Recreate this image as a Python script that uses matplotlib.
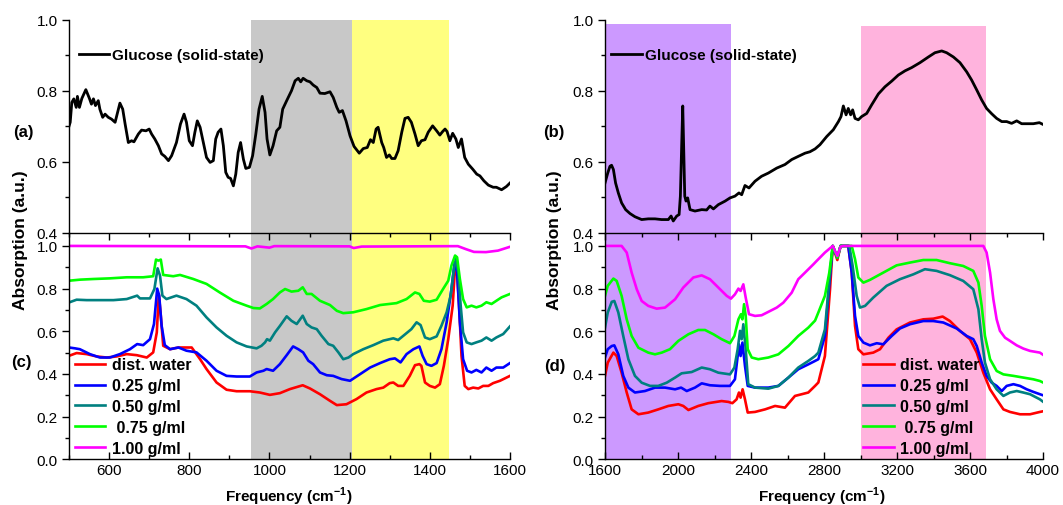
import numpy as np
import matplotlib
matplotlib.use('Agg')
import matplotlib.pyplot as plt
from matplotlib.ticker import MultipleLocator, FormatStrFormatter

plt.rcParams['font.family'] = ['Liberation Sans', 'DejaVu Sans']
plt.rcParams['mathtext.fontset'] = 'custom'
plt.rcParams['mathtext.rm'] = 'Liberation Sans'
plt.rcParams['mathtext.bf'] = 'Liberation Sans:bold'

# ---- data (frequency in cm-1, absorption a.u.) ----
# (a) glucose solid state, 500-1600
glucose_a = [(500, 0.70), (503, 0.711), (507, 0.767), (512, 0.777), (518, 0.753), (521, 0.784), (526, 0.753),
             (532, 0.778), (542, 0.803), (551, 0.778), (556, 0.762), (561, 0.777), (566, 0.758), (573, 0.772),
             (577, 0.748), (584, 0.725), (590, 0.734), (598, 0.725), (606, 0.72), (615, 0.711), (620, 0.734),
             (627, 0.765), (634, 0.748), (640, 0.706), (648, 0.654), (656, 0.659), (662, 0.656), (673, 0.678),
             (681, 0.689), (692, 0.687), (700, 0.692), (706, 0.678), (714, 0.664), (723, 0.645), (731, 0.622),
             (739, 0.615), (748, 0.603), (756, 0.617), (768, 0.654), (778, 0.706), (787, 0.734), (793, 0.711),
             (800, 0.659), (808, 0.645), (814, 0.683), (820, 0.715), (827, 0.697), (835, 0.654), (843, 0.612),
             (852, 0.598), (860, 0.603), (866, 0.664), (872, 0.683), (879, 0.692), (885, 0.645), (891, 0.57),
             (897, 0.556), (903, 0.553), (910, 0.532), (916, 0.565), (922, 0.626), (928, 0.654), (935, 0.607),
             (941, 0.581), (950, 0.584), (958, 0.617), (966, 0.678), (974, 0.748), (982, 0.784), (989, 0.739),
             (994, 0.664), (1001, 0.619), (1009, 0.645), (1018, 0.687), (1026, 0.697), (1033, 0.748),
             (1043, 0.772), (1055, 0.80), (1064, 0.828), (1072, 0.835), (1078, 0.825), (1084, 0.835),
             (1093, 0.828), (1101, 0.825), (1109, 0.816), (1118, 0.809), (1126, 0.793), (1138, 0.792),
             (1151, 0.797), (1159, 0.781), (1168, 0.753), (1174, 0.739), (1182, 0.744), (1191, 0.715),
             (1201, 0.673), (1211, 0.643), (1224, 0.624), (1234, 0.637), (1244, 0.64), (1252, 0.662),
             (1259, 0.654), (1266, 0.692), (1271, 0.697), (1280, 0.654), (1285, 0.640), (1292, 0.612),
             (1299, 0.619), (1305, 0.609), (1313, 0.609), (1321, 0.631), (1330, 0.683), (1338, 0.722),
             (1346, 0.725), (1354, 0.711), (1363, 0.678), (1371, 0.645), (1379, 0.659), (1388, 0.662),
             (1396, 0.683), (1407, 0.701), (1417, 0.687), (1425, 0.675), (1432, 0.685), (1438, 0.692),
             (1443, 0.685), (1450, 0.659), (1457, 0.680), (1465, 0.664), (1471, 0.64), (1479, 0.664),
             (1487, 0.612), (1496, 0.593), (1507, 0.579), (1517, 0.565), (1525, 0.56), (1535, 0.546),
             (1546, 0.534), (1558, 0.528), (1566, 0.528), (1579, 0.521), (1591, 0.53), (1600, 0.54)]

# (b) glucose solid state, 1600-4000
glucose_b = [(1600, 0.540), (1615, 0.568), (1627, 0.587), (1636, 0.590), (1646, 0.578), (1658, 0.540), (1673, 0.512),
             (1691, 0.484), (1713, 0.465), (1737, 0.454), (1764, 0.445), (1801, 0.437), (1837, 0.439),
             (1874, 0.439), (1910, 0.437), (1947, 0.437), (1962, 0.447), (1974, 0.433), (1993, 0.447),
             (2006, 0.451), (2013, 0.503), (2020, 0.643), (2026, 0.757), (2031, 0.643), (2037, 0.503),
             (2044, 0.489), (2053, 0.498), (2066, 0.465), (2093, 0.461), (2130, 0.465), (2157, 0.464),
             (2175, 0.475), (2194, 0.467), (2221, 0.479), (2258, 0.489), (2285, 0.498), (2312, 0.503),
             (2334, 0.512), (2349, 0.507), (2367, 0.533), (2389, 0.526), (2422, 0.545), (2458, 0.559),
             (2495, 0.568), (2541, 0.582), (2586, 0.592), (2623, 0.606), (2659, 0.615), (2696, 0.624),
             (2723, 0.628), (2751, 0.636), (2778, 0.648), (2815, 0.671), (2851, 0.690), (2879, 0.713),
             (2893, 0.727), (2906, 0.757), (2921, 0.732), (2933, 0.750), (2946, 0.732), (2957, 0.746),
             (2970, 0.722), (2988, 0.718), (3006, 0.727), (3034, 0.736), (3061, 0.760), (3098, 0.791),
             (3134, 0.811), (3171, 0.827), (3207, 0.844), (3244, 0.856), (3280, 0.865), (3326, 0.879),
             (3372, 0.895), (3408, 0.907), (3445, 0.912), (3472, 0.907), (3509, 0.895), (3545, 0.879),
             (3582, 0.853), (3609, 0.830), (3637, 0.802), (3664, 0.774), (3691, 0.750), (3719, 0.735),
             (3746, 0.722), (3774, 0.713), (3801, 0.713), (3828, 0.708), (3856, 0.715), (3883, 0.707),
             (3920, 0.707), (3947, 0.707), (3980, 0.710), (4000, 0.705)]

# (c) solutions, 500-1600
water_c = [(500, 0.485), (519, 0.498), (544, 0.493), (569, 0.482), (594, 0.477), (619, 0.482), (644, 0.493),
           (669, 0.488), (694, 0.477), (710, 0.501), (719, 0.595), (724, 0.775), (729, 0.673), (735, 0.532),
           (752, 0.516), (773, 0.524), (806, 0.524), (827, 0.469), (843, 0.423), (868, 0.360), (893, 0.326),
           (918, 0.319), (951, 0.319), (976, 0.313), (1001, 0.302), (1026, 0.310), (1051, 0.329), (1083, 0.347),
           (1101, 0.332), (1126, 0.305), (1151, 0.274), (1168, 0.254), (1192, 0.258), (1217, 0.282),
           (1242, 0.313), (1267, 0.329), (1284, 0.336), (1300, 0.357), (1309, 0.360), (1321, 0.344),
           (1334, 0.344), (1350, 0.391), (1363, 0.441), (1374, 0.446), (1379, 0.438), (1388, 0.360),
           (1400, 0.344), (1413, 0.336), (1425, 0.352), (1435, 0.438), (1446, 0.563), (1457, 0.720),
           (1463, 0.900), (1468, 0.876), (1473, 0.720), (1479, 0.485), (1487, 0.344), (1496, 0.329),
           (1508, 0.336), (1521, 0.332), (1533, 0.344), (1546, 0.344), (1558, 0.357), (1575, 0.368),
           (1600, 0.391)]
g025_c = [(500, 0.524), (515, 0.520), (527, 0.516), (552, 0.493), (577, 0.477), (602, 0.477), (627, 0.493),
          (652, 0.516), (670, 0.540), (685, 0.535), (702, 0.563), (712, 0.634), (720, 0.80), (725, 0.767),
          (731, 0.626), (739, 0.535), (752, 0.516), (773, 0.524), (793, 0.509), (818, 0.501), (843, 0.462),
          (868, 0.415), (893, 0.391), (918, 0.388), (951, 0.388), (968, 0.407), (985, 0.415), (993, 0.423),
          (1009, 0.415), (1026, 0.446), (1043, 0.488), (1059, 0.529), (1072, 0.516), (1084, 0.501),
          (1097, 0.462), (1109, 0.446), (1126, 0.407), (1143, 0.394), (1159, 0.391), (1180, 0.376),
          (1201, 0.368), (1226, 0.399), (1251, 0.430), (1276, 0.451), (1300, 0.469), (1313, 0.473),
          (1327, 0.454), (1342, 0.493), (1359, 0.516), (1374, 0.529), (1382, 0.485), (1392, 0.446),
          (1404, 0.438), (1417, 0.451), (1429, 0.516), (1442, 0.642), (1454, 0.798), (1462, 0.923),
          (1468, 0.876), (1475, 0.642), (1483, 0.469), (1493, 0.415), (1504, 0.407), (1516, 0.419),
          (1529, 0.407), (1541, 0.430), (1554, 0.415), (1566, 0.430), (1583, 0.430), (1600, 0.451)]
g050_c = [(500, 0.735), (519, 0.748), (544, 0.746), (577, 0.746), (611, 0.746), (644, 0.751), (670, 0.767),
          (677, 0.754), (702, 0.754), (713, 0.798), (721, 0.895), (727, 0.861), (733, 0.767), (743, 0.751),
          (768, 0.767), (793, 0.751), (818, 0.72), (843, 0.665), (868, 0.618), (893, 0.579), (918, 0.548),
          (943, 0.529), (968, 0.520), (980, 0.532), (989, 0.548), (994, 0.563), (1001, 0.556), (1014, 0.595),
          (1026, 0.625), (1043, 0.670), (1055, 0.649), (1068, 0.634), (1083, 0.673), (1093, 0.634),
          (1105, 0.618), (1118, 0.610), (1130, 0.579), (1147, 0.540), (1159, 0.532), (1172, 0.501),
          (1184, 0.469), (1197, 0.477), (1209, 0.493), (1234, 0.516), (1259, 0.535), (1284, 0.556),
          (1309, 0.567), (1321, 0.559), (1334, 0.579), (1354, 0.610), (1367, 0.642), (1377, 0.629),
          (1388, 0.571), (1400, 0.563), (1417, 0.576), (1429, 0.626), (1442, 0.689), (1452, 0.767),
          (1460, 0.892), (1465, 0.939), (1471, 0.876), (1477, 0.720), (1483, 0.595), (1492, 0.548),
          (1504, 0.540), (1516, 0.548), (1529, 0.556), (1541, 0.571), (1554, 0.556), (1566, 0.571),
          (1583, 0.587), (1600, 0.623)]
g075_c = [(500, 0.837), (528, 0.842), (561, 0.845), (602, 0.848), (644, 0.853), (685, 0.853), (710, 0.858),
          (717, 0.936), (723, 0.931), (729, 0.936), (735, 0.864), (760, 0.858), (777, 0.864), (810, 0.845),
          (843, 0.822), (876, 0.782), (910, 0.743), (943, 0.72), (960, 0.709), (976, 0.707), (993, 0.728),
          (1009, 0.751), (1026, 0.782), (1039, 0.798), (1055, 0.786), (1072, 0.79), (1083, 0.806),
          (1093, 0.775), (1105, 0.775), (1126, 0.743), (1151, 0.723), (1168, 0.696), (1184, 0.685),
          (1209, 0.689), (1242, 0.704), (1276, 0.723), (1317, 0.732), (1342, 0.751), (1363, 0.782),
          (1374, 0.775), (1385, 0.743), (1400, 0.739), (1417, 0.748), (1433, 0.798), (1446, 0.837),
          (1454, 0.908), (1463, 0.955), (1468, 0.947), (1475, 0.845), (1483, 0.751), (1492, 0.712),
          (1504, 0.720), (1516, 0.712), (1529, 0.720), (1541, 0.736), (1554, 0.728), (1566, 0.743),
          (1579, 0.759), (1600, 0.775)]
g100_c = [(500, 1.0), (940, 0.998), (955, 0.988), (970, 0.998), (1000, 0.992), (1012, 0.999), (1200, 0.998),
          (1210, 0.99), (1230, 0.997), (1470, 0.999), (1490, 0.985), (1510, 0.972), (1540, 0.971),
          (1570, 0.978), (1600, 0.996)]

# (d) solutions, 1600-4000
water_d = [(1600, 0.391), (1615, 0.453), (1646, 0.50), (1664, 0.484), (1691, 0.406), (1719, 0.313), (1746, 0.234),
           (1783, 0.211), (1837, 0.219), (1892, 0.234), (1947, 0.25), (2002, 0.258), (2029, 0.25), (2057, 0.231),
           (2111, 0.25), (2166, 0.263), (2239, 0.273), (2276, 0.269), (2298, 0.263), (2321, 0.281),
           (2334, 0.313), (2343, 0.289), (2354, 0.328), (2367, 0.281), (2382, 0.219), (2422, 0.222),
           (2477, 0.234), (2532, 0.25), (2586, 0.242), (2641, 0.297), (2678, 0.305), (2714, 0.313),
           (2751, 0.344), (2769, 0.36), (2805, 0.484), (2833, 0.797), (2848, 1.0), (2873, 0.934), (2891, 1.0),
           (2933, 1.0), (2952, 0.875), (2970, 0.625), (2988, 0.516), (3016, 0.492), (3070, 0.50),
           (3107, 0.516), (3153, 0.570), (3198, 0.609), (3271, 0.641), (3344, 0.656), (3399, 0.659),
           (3450, 0.669), (3490, 0.648), (3545, 0.602), (3600, 0.563), (3637, 0.50), (3673, 0.406),
           (3710, 0.328), (3746, 0.281), (3783, 0.234), (3819, 0.222), (3874, 0.211), (3929, 0.211),
           (3983, 0.222), (4000, 0.225)]
g025_d = [(1600, 0.477), (1615, 0.516), (1637, 0.531), (1651, 0.534), (1673, 0.492), (1700, 0.391), (1728, 0.336),
          (1764, 0.313), (1819, 0.320), (1874, 0.336), (1929, 0.336), (1984, 0.328), (2017, 0.336),
          (2048, 0.320), (2093, 0.336), (2130, 0.356), (2175, 0.347), (2230, 0.344), (2285, 0.344),
          (2312, 0.375), (2327, 0.484), (2334, 0.539), (2343, 0.484), (2353, 0.547), (2367, 0.438),
          (2382, 0.344), (2422, 0.336), (2495, 0.336), (2550, 0.344), (2605, 0.383), (2659, 0.422),
          (2714, 0.445), (2751, 0.461), (2769, 0.469), (2805, 0.578), (2833, 0.859), (2848, 1.0),
          (2873, 0.945), (2891, 1.0), (2933, 1.0), (2952, 0.875), (2970, 0.672), (2988, 0.578),
          (3016, 0.547), (3052, 0.534), (3089, 0.544), (3125, 0.539), (3171, 0.578), (3216, 0.613),
          (3271, 0.633), (3344, 0.648), (3399, 0.648), (3454, 0.641), (3527, 0.613), (3582, 0.578),
          (3618, 0.563), (3637, 0.531), (3664, 0.453), (3691, 0.391), (3719, 0.359), (3746, 0.344),
          (3774, 0.320), (3801, 0.344), (3838, 0.352), (3874, 0.344), (3911, 0.328), (3947, 0.316),
          (3983, 0.305), (4000, 0.30)]
g050_d = [(1600, 0.617), (1615, 0.688), (1637, 0.738), (1651, 0.742), (1673, 0.688), (1700, 0.578), (1728, 0.469),
          (1764, 0.391), (1801, 0.359), (1847, 0.344), (1892, 0.344), (1938, 0.359), (1984, 0.383),
          (2020, 0.403), (2075, 0.409), (2130, 0.430), (2175, 0.422), (2221, 0.406), (2285, 0.398),
          (2309, 0.430), (2327, 0.516), (2340, 0.602), (2349, 0.563), (2358, 0.633), (2371, 0.516),
          (2385, 0.352), (2422, 0.336), (2495, 0.331), (2550, 0.344), (2605, 0.383), (2659, 0.430),
          (2714, 0.461), (2751, 0.484), (2769, 0.50), (2805, 0.609), (2833, 0.875), (2848, 1.0),
          (2873, 0.945), (2891, 1.0), (2939, 1.0), (2957, 0.906), (2979, 0.766), (2997, 0.711),
          (3025, 0.719), (3070, 0.758), (3143, 0.813), (3216, 0.844), (3290, 0.867), (3353, 0.891),
          (3417, 0.883), (3490, 0.863), (3563, 0.836), (3618, 0.797), (3646, 0.703), (3664, 0.563),
          (3682, 0.453), (3710, 0.375), (3746, 0.328), (3783, 0.297), (3819, 0.313), (3856, 0.320),
          (3892, 0.313), (3929, 0.305), (3983, 0.281), (4000, 0.27)]
g075_d = [(1600, 0.766), (1615, 0.813), (1646, 0.847), (1664, 0.836), (1691, 0.766), (1719, 0.656), (1746, 0.578),
          (1783, 0.523), (1837, 0.50), (1874, 0.492), (1911, 0.50), (1956, 0.516), (2002, 0.555),
          (2057, 0.586), (2111, 0.606), (2148, 0.606), (2194, 0.586), (2239, 0.563), (2285, 0.544),
          (2309, 0.578), (2331, 0.656), (2345, 0.680), (2353, 0.656), (2362, 0.727), (2371, 0.672),
          (2382, 0.516), (2404, 0.477), (2440, 0.469), (2495, 0.477), (2550, 0.492), (2605, 0.531),
          (2659, 0.578), (2714, 0.617), (2751, 0.650), (2769, 0.688), (2805, 0.766), (2829, 0.875),
          (2848, 1.0), (2873, 0.945), (2891, 1.0), (2952, 1.0), (2970, 0.938), (2988, 0.852), (3016, 0.828),
          (3052, 0.841), (3125, 0.875), (3198, 0.909), (3271, 0.922), (3344, 0.934), (3417, 0.934),
          (3490, 0.919), (3563, 0.906), (3618, 0.883), (3646, 0.828), (3664, 0.719), (3682, 0.578),
          (3710, 0.469), (3746, 0.414), (3783, 0.398), (3838, 0.391), (3892, 0.383), (3947, 0.375),
          (3983, 0.367), (4000, 0.36)]
g100_d = [(1600, 1.0), (1691, 1.0), (1719, 0.969), (1746, 0.875), (1774, 0.797), (1801, 0.742), (1837, 0.719),
          (1883, 0.706), (1929, 0.711), (1984, 0.75), (2029, 0.805), (2084, 0.852), (2130, 0.862),
          (2175, 0.844), (2221, 0.805), (2267, 0.766), (2290, 0.753), (2312, 0.773), (2331, 0.80),
          (2343, 0.789), (2358, 0.820), (2371, 0.758), (2389, 0.680), (2422, 0.672), (2458, 0.675),
          (2495, 0.691), (2541, 0.711), (2577, 0.734), (2623, 0.781), (2659, 0.844), (2696, 0.875),
          (2742, 0.914), (2760, 0.930), (2805, 0.969), (2848, 1.0), (2860, 0.977), (2873, 0.953),
          (2891, 0.997), (2905, 1.0), (3673, 1.0), (3691, 0.969), (3710, 0.875), (3728, 0.75), (3746, 0.656),
          (3764, 0.602), (3792, 0.570), (3819, 0.555), (3856, 0.534), (3892, 0.519), (3929, 0.508),
          (3983, 0.50), (4000, 0.49)]

labels = ['dist. water', '0.25 g/ml', '0.50 g/ml', ' 0.75 g/ml', '1.00 g/ml']
colors = ['#FF0000', '#0000FF', '#008080', '#00FF00', '#FF00FF']
series_c = [water_c, g025_c, g050_c, g075_c, g100_c]
series_d = [water_d, g025_d, g050_d, g075_d, g100_d]

# shaded bands (cm-1)
bands_left = [(953, 1205, '#C8C8C8'), (1205, 1448, '#FFFF80')]
bands_right = [(1600, 2288, '#CC99FF', 0.988), (3000, 3690, '#FFB3DD', 0.982)]

W, H = 1063, 506
fig = plt.figure(figsize=(W / 100, H / 100), dpi=100)


def rect(x0, x1, ytop, ybot):
    return [x0 / W, 1 - ybot / H, (x1 - x0) / W, (ybot - ytop) / H]


ax_c = fig.add_axes(rect(69, 510, 233.7, 460.3))
ax_d = fig.add_axes(rect(605, 1043, 233.7, 460.3))
ax_a = fig.add_axes(rect(69, 510, 20.7, 233.7))
ax_b = fig.add_axes(rect(605, 1043, 20.7, 233.7))
for ax in (ax_a, ax_b):
    ax.set_facecolor('none')


def style(ax, top):
    for s in ('top', 'right'):
        ax.spines[s].set_visible(False)
    for s in ('left', 'bottom'):
        ax.spines[s].set_linewidth(1.0)
    ax.tick_params(which='major', direction='out', length=5, width=1, labelsize=11)
    ax.tick_params(which='minor', direction='out', length=3, width=1)
    ax.tick_params(axis='y', which='major', pad=3)
    ax.yaxis.set_major_formatter(FormatStrFormatter('%.1f'))
    if top:
        ax.set_ylim(0.4, 1.0)
        ax.yaxis.set_major_locator(MultipleLocator(0.2))
        ax.yaxis.set_minor_locator(MultipleLocator(0.1))
        ax.tick_params(labelbottom=False)
    else:
        ax.set_ylim(0, 1.062)
        ax.set_yticks([0, 0.2, 0.4, 0.6, 0.8, 1.0])
        ax.set_yticks(np.arange(0.1, 1.0, 0.2), minor=True)
        ax.tick_params(axis='x', which='both', direction='in', pad=3)


for ax in (ax_a, ax_c):
    ax.set_xlim(500, 1600)
    ax.set_xticks(np.arange(600, 1601, 200))
    ax.set_xticks(np.arange(500, 1600, 200), minor=True)
for ax in (ax_b, ax_d):
    ax.set_xlim(1600, 4000)
    ax.set_xticks(np.arange(1600, 4001, 400))
    ax.set_xticks(np.arange(1800, 4000, 400), minor=True)

style(ax_a, True)
style(ax_b, True)
style(ax_c, False)
style(ax_d, False)

# bands
for x0, x1, c in bands_left:
    ax_a.axvspan(x0, x1, color=c, lw=0, zorder=0)
    ax_c.axvspan(x0, x1, color=c, lw=0, zorder=0)
for x0, x1, c, top in bands_right:
    ax_b.axvspan(x0, x1, ymin=0, ymax=(top - 0.4) / 0.6, color=c, lw=0, zorder=0)
    ax_d.axvspan(x0, x1, color=c, lw=0, zorder=0)

# glucose
for ax, data in ((ax_a, glucose_a), (ax_b, glucose_b)):
    x, y = np.array(data).T
    ax.plot(x, y, color='black', lw=2.0, label='Glucose (solid-state)')

# solutions
for ax, group in ((ax_c, series_c), (ax_d, series_d)):
    for data, lab, col in zip(group, labels, colors):
        x, y = np.array(data).T
        ax.plot(x, y, color=col, lw=1.9, label=lab)

ax_a.legend(loc='center left', bbox_to_anchor=(0.022, 0.834), frameon=False,
            prop={'weight': 'bold', 'size': 11}, handlelength=2.0, handletextpad=0.2,
            borderpad=0, borderaxespad=0)
ax_b.legend(loc='center left', bbox_to_anchor=(0.014, 0.834), frameon=False,
            prop={'weight': 'bold', 'size': 11}, handlelength=2.0, handletextpad=0.2,
            borderpad=0, borderaxespad=0)
for ax, xa in ((ax_c, 0.0136), (ax_d, 0.59)):
    ax.legend(loc='center left', bbox_to_anchor=(xa, 0.233), frameon=False,
              prop={'weight': 'bold', 'size': 11.5}, handlelength=1.9, handletextpad=0.42,
              labelspacing=0.37, borderpad=0, borderaxespad=0)

# texts
for xp, yp, t in ((23, 132, '(a)'), (21, 363, '(c)'), (554, 132, '(b)'), (555, 367, '(d)')):
    fig.text(xp / W, 1 - yp / H, t, fontsize=12, fontweight='bold', ha='center', va='center')
for xp in (21, 554):
    fig.text(xp / W, 1 - 240 / H, 'Absorption (a.u.)', rotation=90, fontsize=12.5,
             fontweight='bold', ha='center', va='center')
for xp in (289, 822):
    fig.text(xp / W, 1 - 497 / H, r'Frequency (cm$^{\mathbf{-1}}$)', fontsize=11,
             fontweight='bold', ha='center', va='center')

fig.savefig('out.png', dpi=100)
